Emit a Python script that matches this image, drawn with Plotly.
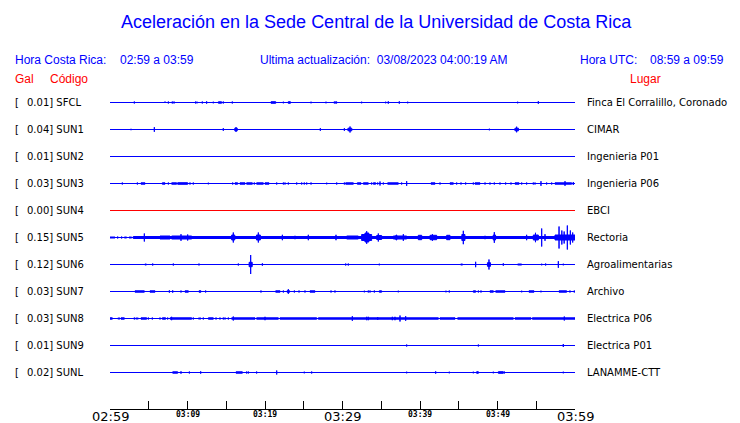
import plotly.graph_objects as go

# ---------------- data ----------------
codes = ["SFCL", "SUN1", "SUN2", "SUN3", "SUN4", "SUN5", "SUN6", "SUN7", "SUN8", "SUN9", "SUNL"]
gal = ["0.01", "0.04", "0.01", "0.03", "0.00", "0.15", "0.12", "0.03", "0.03", "0.01", "0.02"]
places = ["Finca El Corralillo, Coronado", "CIMAR", "Ingenieria P01", "Ingenieria P06", "EBCI",
          "Rectoria", "Agroalimentarias", "Archivo", "Electrica P06", "Electrica P01", "LANAMME-CTT"]

tick_minutes = [0, 5, 10, 15, 20, 25, 30, 35, 40, 45, 50, 55, 60]
label_minutes = [0, 10, 20, 30, 40, 50, 60]
label_texts = ["02:59", "03:09", "03:19", "03:29", "03:39", "03:49", "03:59"]

# events: (start minute, end minute, half amplitude in px)
SFCL = [(3.14, 3.14, 1.0), (7.0, 7.2, 0.8), (7.53, 7.53, 1.0), (8.04, 8.04, 1.0), (8.26, 8.26, 1.0),
        (11.05, 11.05, 1.0), (11.23, 11.23, 0.8), (11.91, 11.91, 1.0), (12.47, 12.47, 1.2),
        (13.33, 13.33, 0.8), (13.98, 14.4, 1.2), (14.62, 14.62, 1.0), (15.78, 15.78, 1.0),
        (20.78, 21.38, 1.3), (22.37, 22.37, 0.8), (23.0, 23.28, 1.3), (25.94, 25.94, 0.8),
        (27.87, 27.87, 0.8), (28.95, 28.95, 1.0), (29.1, 29.25, 1.3), (32.47, 32.47, 0.8),
        (35.57, 35.57, 0.8), (35.91, 35.91, 1.2), (37.33, 37.33, 1.2), (38.41, 38.41, 0.8),
        (52.6, 52.6, 0.8), (55.27, 55.27, 1.3)]
SUN1 = [(2.71, 2.71, 0.7), (5.72, 5.72, 2.3), (14.62, 14.62, 1.3), (16.1, 16.42, 1.8), (16.26, 16.26, 2.3),
        (27.14, 27.14, 1.3), (30.24, 30.24, 1.3), (30.7, 31.2, 1.8), (30.97, 30.97, 3.0),
        (48.95, 48.95, 0.8), (52.25, 52.7, 1.8), (52.47, 52.47, 2.8)]
SUN2 = []
SUN3 = [(1.59, 1.59, 1.0), (3.53, 3.53, 1.0), (4.0, 4.52, 1.2), (6.75, 7.10, 1.2), (7.53, 7.53, 1.0),
        (7.96, 8.60, 1.2), (8.73, 10.02, 1.3), (10.32, 10.32, 1.0), (10.75, 10.75, 1.0), (12.69, 12.69, 0.8),
        (15.83, 15.83, 1.0), (16.13, 16.47, 1.2), (16.77, 17.42, 1.2), (17.63, 18.37, 1.2), (18.62, 18.62, 1.0),
        (18.92, 19.78, 1.2), (20.0, 20.52, 1.2), (21.51, 21.51, 1.0), (22.37, 22.37, 1.0), (22.58, 22.58, 1.0),
        (23.01, 23.01, 1.0), (24.09, 24.09, 1.0), (24.73, 24.73, 1.0), (25.07, 25.07, 1.0), (25.38, 25.38, 1.0),
        (25.94, 25.94, 1.0), (27.96, 27.96, 0.8), (29.25, 29.25, 1.0), (30.24, 30.24, 1.0), (30.41, 31.40, 1.2),
        (31.91, 32.39, 1.2), (32.69, 33.33, 1.2), (33.76, 33.76, 1.0), (33.98, 34.28, 1.2), (34.54, 34.54, 1.0),
        (34.84, 34.84, 2.0), (35.27, 35.27, 1.0), (35.83, 37.20, 1.2), (37.63, 37.63, 1.0), (38.28, 38.28, 2.3),
        (41.42, 41.94, 1.2), (42.58, 42.58, 1.0), (43.87, 44.30, 1.2), (44.73, 44.73, 1.0), (45.29, 45.29, 1.0),
        (45.89, 45.89, 1.0), (46.88, 46.88, 1.0), (47.10, 47.74, 1.2), (48.39, 48.39, 1.0), (49.03, 49.03, 1.0),
        (49.59, 49.59, 1.0), (50.32, 50.32, 1.0), (51.05, 51.05, 1.0), (51.74, 51.74, 1.0), (52.26, 52.78, 1.2),
        (53.12, 53.12, 1.0), (53.76, 53.76, 1.0), (54.62, 54.62, 1.0), (54.84, 54.84, 1.0), (55.61, 55.61, 2.3),
        (56.34, 56.34, 1.0), (56.99, 56.99, 1.0), (57.42, 59.57, 1.2), (58.71, 58.71, 2.3), (59.78, 59.78, 1.5)]
SUN4 = []
SUN5 = [(0.0, 0.65, 1.0), (0.99, 0.99, 1.0), (1.5, 1.5, 1.0), (1.85, 2.15, 1.0), (2.45, 2.8, 1.0),
        (3.0, 60.0, 1.5),
        (4.43, 4.43, 4.0), (6.45, 7.74, 2.0), (7.96, 10.54, 2.0), (9.16, 9.16, 3.3), (10.02, 10.02, 3.0),
        (15.91, 15.91, 5.0), (15.7, 16.1, 3.0), (19.14, 19.14, 5.0), (18.9, 19.4, 3.0), (22.24, 22.24, 2.7),
        (23.87, 23.87, 1.7), (25.59, 25.59, 2.7), (29.16, 29.16, 2.7), (30.54, 32.04, 2.0), (32.47, 33.76, 3.5),
        (33.12, 33.12, 6.3), (32.9, 33.4, 5.0), (34.41, 35.05, 2.5), (34.62, 34.62, 4.0), (36.56, 38.28, 2.0),
        (37.85, 37.85, 3.3), (36.9, 37.0, 3.0), (39.78, 40.22, 2.7), (41.29, 42.15, 2.7), (41.6, 41.6, 3.3),
        (43.44, 43.87, 2.7), (45.59, 45.59, 6.7), (45.4, 45.8, 3.5), (48.39, 48.39, 1.7), (49.59, 49.59, 5.3),
        (49.45, 49.75, 3.0), (53.76, 53.76, 2.7), (54.62, 55.27, 3.0), (54.9, 54.9, 4.7), (55.70, 55.70, 9.0),
        (56.13, 56.13, 3.3), (57.42, 60.0, 3.0), (57.94, 57.94, 11.0), (59.01, 59.01, 12.0), (58.3, 58.3, 7.0),
        (58.6, 58.6, 6.0), (59.4, 59.4, 7.0), (59.7, 59.7, 5.0)]
SUN6 = [(4.5, 4.7, 1.0), (5.51, 5.51, 1.0), (8.17, 8.17, 1.0), (11.38, 11.58, 1.0), (16.56, 16.56, 1.0),
        (17.95, 18.35, 2.7), (18.15, 18.15, 9.5), (19.66, 19.66, 1.2), (30.41, 30.41, 1.0), (30.75, 30.75, 1.0),
        (34.75, 34.75, 0.8), (45.25, 45.5, 1.0), (47.18, 47.18, 2.7), (48.7, 49.1, 2.3), (48.9, 48.9, 5.0),
        (50.75, 50.75, 1.2), (52.6, 53.12, 1.0), (55.70, 55.70, 0.8), (56.21, 56.21, 1.0), (57.85, 57.85, 3.3),
        (58.49, 58.49, 0.8)]
SUN7 = [(3.23, 4.43, 1.2), (5.16, 5.81, 1.2), (7.66, 7.66, 1.2), (8.09, 8.09, 1.2), (9.16, 9.16, 1.0),
        (9.68, 10.11, 1.2), (11.48, 11.74, 1.2), (12.34, 12.34, 1.0), (19.48, 19.48, 1.0), (21.38, 21.94, 1.2),
        (22.37, 22.37, 1.0), (23.01, 23.01, 2.3), (22.85, 23.17, 1.3), (23.79, 23.79, 1.0), (24.39, 24.39, 1.0),
        (25.16, 25.16, 1.0), (25.81, 26.45, 1.2), (28.52, 28.52, 1.0), (29.03, 29.03, 1.0), (32.82, 32.82, 0.8),
        (33.33, 33.33, 1.0), (33.55, 33.55, 1.0), (34.11, 34.11, 1.0), (34.75, 35.05, 1.2), (37.20, 37.20, 0.8),
        (43.35, 43.35, 0.8), (43.78, 43.78, 1.0), (46.88, 47.18, 1.2), (47.53, 47.53, 1.0), (47.87, 47.87, 1.0),
        (49.03, 49.46, 1.2), (49.77, 50.97, 1.2), (53.12, 53.12, 0.8), (54.06, 54.71, 1.2), (55.61, 55.61, 0.8),
        (57.94, 58.92, 1.2), (59.35, 59.35, 1.0), (59.91, 59.91, 1.0)]
SUN8 = [(0.0, 0.30, 1.2), (1.0, 1.29, 1.0), (1.42, 1.85, 1.2), (3.14, 3.14, 1.0), (3.31, 3.66, 1.0),
        (4.0, 4.73, 1.2), (4.95, 4.95, 1.0), (5.46, 5.46, 1.0), (6.45, 6.45, 1.0), (6.75, 7.18, 1.2),
        (7.44, 7.44, 1.0), (7.74, 10.54, 1.2), (7.95, 7.95, 1.7), (10.75, 10.75, 1.0), (11.40, 11.74, 1.0),
        (12.04, 12.04, 1.0), (12.69, 13.33, 1.2), (13.68, 13.68, 1.0), (14.19, 14.19, 1.0), (14.62, 14.62, 1.0),
        (14.84, 14.84, 1.0), (15.27, 15.27, 1.0), (15.70, 18.71, 1.2), (15.91, 15.91, 2.0), (18.92, 21.72, 1.2),
        (20.0, 20.0, 1.7), (21.94, 26.67, 1.2), (26.88, 42.37, 1.2), (42.58, 44.52, 1.2), (44.86, 52.04, 1.2),
        (52.26, 54.32, 1.2), (54.49, 60.0, 1.2), (31.27, 31.27, 2.3), (33.12, 33.12, 1.7), (33.33, 33.33, 1.7),
        (34.54, 34.54, 1.3), (36.43, 36.43, 1.7), (36.77, 36.77, 1.7), (37.42, 37.42, 3.0), (38.15, 38.15, 2.3),
        (58.62, 58.62, 2.0)]
SUN9 = [(38.28, 38.28, 1.0), (47.53, 47.53, 1.0), (58.49, 58.49, 1.5)]
SUNL = [(8.09, 8.73, 1.2), (9.16, 9.16, 1.2), (10.24, 10.24, 1.0), (11.70, 11.70, 1.2), (16.26, 17.08, 1.2),
        (17.63, 17.63, 1.0), (17.85, 17.85, 1.0), (18.92, 18.92, 1.0), (21.51, 21.51, 2.0), (25.07, 25.07, 0.8),
        (26.02, 26.02, 1.0), (38.28, 38.28, 0.8), (42.02, 42.02, 1.2), (43.78, 43.78, 0.8), (46.88, 46.88, 0.8),
        (47.31, 47.53, 1.3), (49.46, 49.46, 0.8), (50.11, 50.75, 1.3), (50.88, 50.88, 1.0), (58.49, 58.49, 0.8)]

station_events = [SFCL, SUN1, SUN2, SUN3, SUN4, SUN5, SUN6, SUN7, SUN8, SUN9, SUNL]

# ---------------- layout constants ----------------
W, H = 740, 423
ROW0_PX, ROW_STEP_PX = 102.5, 27
PLOT_L, PLOT_R, PLOT_T, PLOT_B = 110, 575, 85, 409
BLUE, RED = "#0000ff", "#ff0000"
T_END = 60
STROKE = 1.0

y_top = (PLOT_T - ROW0_PX) / ROW_STEP_PX
y_bot = (PLOT_B - ROW0_PX) / ROW_STEP_PX


def px_x(p):
    # pixel -> paper coordinate (paper = plot area)
    return (p - PLOT_L) / (PLOT_R - PLOT_L)


def px_y(p):
    return (PLOT_B - p) / (PLOT_B - PLOT_T)


fig = go.Figure()
for i, (code, ev) in enumerate(zip(codes, station_events)):
    color = RED if float(gal[i]) == 0 else BLUE
    fig.add_trace(go.Scatter(x=[0, T_END], y=[i, i], mode="lines",
                             line=dict(color=color, width=STROKE), hoverinfo="skip", showlegend=False))
    if ev:
        xs, ys = [], []
        for t0, t1, a in ev:
            # blobs gain half a stroke on each side; single spikes do not (butt caps)
            a_eff = a if t0 == t1 else max(a - STROKE / 2, 0.3)
            h = a_eff / ROW_STEP_PX
            xs += [t0, t1, t1, t0, t0, None]
            ys += [i - h, i - h, i + h, i + h, i - h, None]
        fig.add_trace(go.Scatter(x=xs, y=ys, mode="lines", fill="toself", fillcolor=color,
                                 line=dict(color=color, width=STROKE), hoverinfo="skip", showlegend=False))

ann = []
LBL = dict(family="DejaVu Sans", size=10, color="black")
for i, code in enumerate(codes):
    ypx = ROW0_PX + i * ROW_STEP_PX
    ann.append(dict(x=px_x(13), y=px_y(ypx), text="[", xanchor="left", font=LBL))
    ann.append(dict(x=px_x(25), y=px_y(ypx), text=f"{gal[i]}] {code}", xanchor="left", font=LBL))
    ann.append(dict(x=px_x(585), y=px_y(ypx), text=places[i], xanchor="left", font=LBL))

HDR = dict(family="Liberation Sans", size=12, color=BLUE)
HDR_R = dict(family="Liberation Sans", size=12, color=RED)
ann += [
    dict(x=px_x(W / 2 + 6), y=px_y(22), text="Aceleración en la Sede Central de la Universidad de Costa Rica",
         xanchor="center", font=dict(family="Liberation Sans", size=18, color=BLUE)),
    dict(x=px_x(13), y=px_y(60), text="Hora Costa Rica:", xanchor="left", font=HDR),
    dict(x=px_x(118), y=px_y(60), text="02:59 a 03:59", xanchor="left", font=HDR),
    dict(x=px_x(258), y=px_y(60), text="Ultima actualización:  03/08/2023 04:00:19 AM", xanchor="left", font=HDR),
    dict(x=px_x(578), y=px_y(60), text="Hora UTC:", xanchor="left", font=HDR),
    dict(x=px_x(648), y=px_y(60), text="08:59 a 09:59", xanchor="left", font=HDR),
    dict(x=px_x(13), y=px_y(79), text="Gal", xanchor="left", font=HDR_R),
    dict(x=px_x(48), y=px_y(79), text="Código", xanchor="left", font=HDR_R),
    dict(x=px_x(628), y=px_y(79), text="Lugar", xanchor="left", font=HDR_R),
]
for m, txt in zip(label_minutes, label_texts):
    big = m % 30 == 0
    ann.append(dict(x=m, xref="x", y=px_y(416 if big else 414), text=txt, xanchor="center",
                    font=dict(family="DejaVu Sans" if big else "DejaVu Sans Mono",
                              size=13 if big else 8, color="black", weight="normal" if big else "bold")))

for a in ann:
    a.setdefault("xref", "paper")
    a.setdefault("yref", "paper")
    a.setdefault("yanchor", "middle")
    a["showarrow"] = False

fig.update_layout(
    width=W, height=H, paper_bgcolor="white", plot_bgcolor="white",
    margin=dict(l=PLOT_L, r=W - PLOT_R, t=PLOT_T, b=H - PLOT_B, pad=0),
    xaxis=dict(range=[0, T_END], showgrid=False, zeroline=False, showline=True, linecolor="black",
               linewidth=1, ticks="inside", ticklen=8, tickcolor="black", tickwidth=1,
               tickvals=tick_minutes, showticklabels=False, fixedrange=True),
    yaxis=dict(range=[y_bot, y_top], visible=False, fixedrange=True),
    annotations=ann,
)
fig.write_html("out.html", config={"displayModeBar": False},
               post_script="document.body.style.margin='0';document.body.style.padding='0';")
